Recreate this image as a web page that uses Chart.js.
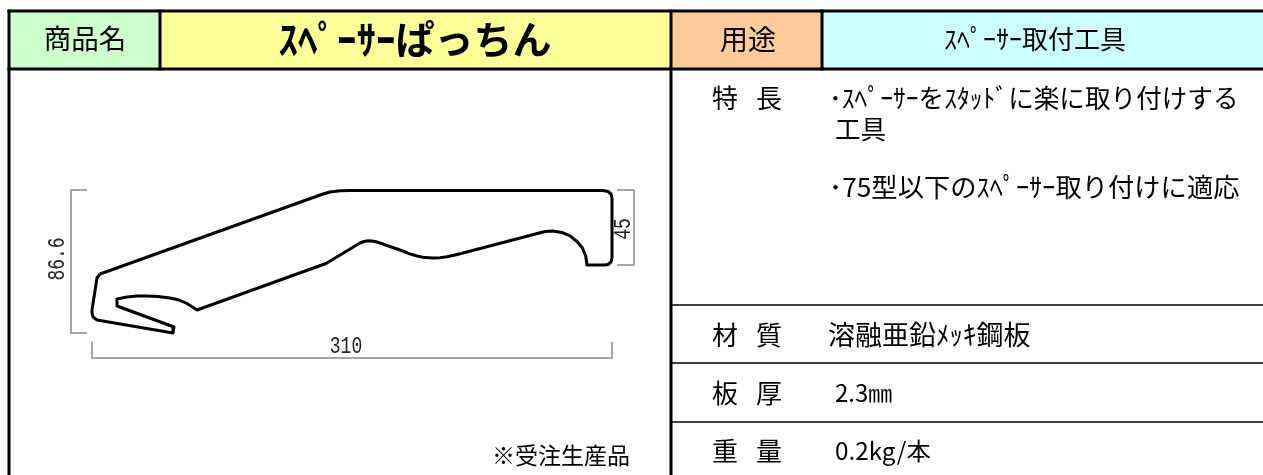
<!DOCTYPE html>
<html lang="ja"><head><meta charset="utf-8">
<style>html,body{margin:0;padding:0;background:#fff;overflow:hidden}canvas{display:block}</style>
<script src="https://cdn.jsdelivr.net/npm/chart.js@4/dist/chart.umd.min.js"></script>
</head><body><canvas id="c" width="1263" height="475"></canvas>
<script>
// profile outline: [x, y] in drawing units
const profileOutline = [[100,274],[323,194],[330,192],[340,190.7],[350,190.5],[603,190.5],[608,191.5],[611,194],[612,198],[612,258],[611,262],[608,264.5],[604,265],[587,265],[585.8,256.2],[582.4,248],[577,241.5],[570,235.8],[561.8,232.4],[553,231],[548,231.2],[543,232],[463,253],[455,255],[447,256.8],[440,257.7],[433,258],[425,257.6],[417,256],[408,253.2],[400,250],[377,242],[372,241],[368,240.8],[364,241.5],[360,243],[326,263.5],[197,310],[187,303.5],[179,300],[170,298],[158,296.4],[147,296],[137,296],[127,297],[117,299],[117,306],[174,327],[173,333],[97,320],[93,317],[92,313],[92,310],[97,278],[100,274]];
const bracketHeight = [[87,190],[71,190],[71,333],[87,333]];
const bracketWidth = [[92,342],[92,358],[612,358],[612,342]];
const bracketDepth = [[617,190],[634,190],[634,265],[617,265]];
// table rules
const thickRules = [[[9,11],[1263,11]],[[9,69],[1263,69]],[[9,11],[9,475]],[[160,11],[160,69]],[[671,11],[671,475]],[[822,11],[822,69]]];
const thinRules = [[[671,305],[1263,305]],[[671,363],[1263,363]],[[671,422],[1263,422]]];
// header cell fills
const cellNameLabel = [[9,11],[160,11],[160,69],[9,69]];
const cellNameValue = [[160,11],[671,11],[671,69],[160,69]];
const cellUseLabel = [[671,11],[822,11],[822,69],[671,69]];
const cellUseValue = [[822,11],[1263,11],[1263,69],[822,69]];
// texts
const tableTexts = ['商品名','ｽﾍﾟｰｻｰぱっちん','用途','ｽﾍﾟｰｻｰ取付工具','特','長','･ｽﾍﾟｰｻｰをｽﾀｯﾄﾞに楽に取り付けする','工具','･75型以下のｽﾍﾟｰｻｰ取り付けに適応','材','質','溶融亜鉛ﾒｯｷ鋼板','板','厚','2.3㎜','重','量','0.2kg/本','※受注生産品'];
const dimensionTexts = ['86.6','45','310'];

const pts = a => a.map(p => ({x:p[0], y:p[1]}));
const line = (a, color, w, extra) => Object.assign({data:pts(a), borderColor:color, borderWidth:w, pointRadius:0, showLine:true, tension:0, borderJoinStyle:'round', borderCapStyle:'butt', fill:false}, extra||{});
const cell = (a, color) => line(a.concat([a[0]]), 'rgba(0,0,0,0)', 0, {backgroundColor:color, fill:'shape', order:10});

const JP = '"Noto Sans CJK JP"';
// layout: text index -> [x anchor, y centre, size, weight, align]
const textLayout = [
 [85,39,27.5,400,'center'],[415,39,39,700,'center'],[748,39,28,400,'center'],[1035,39,26,400,'center'],
 [725,98,26,400,'center'],[769,98,26,400,'center'],[829,98,25.6,400,'left'],[835,129,25.6,400,'left'],[829,187,26.3,400,'left'],
 [725,335,26,400,'center'],[769,335,26,400,'center'],[828,335,27,400,'left'],
 [725,393,26,400,'center'],[769,393,26,400,'center'],[835,393,24,400,'left'],
 [725,451,26,400,'center'],[769,451,26,400,'center'],[835,451,24.3,400,'left'],
 [561,455,23,400,'center']
];
// layout: [x centre, y centre, size, rotation]
const dimLayout = [[58,259,18,-90],[624,229,18,-90],[346,347,18,0]];

const textPlugin = {id:'texts', afterDatasetsDraw(ch){
  const {ctx, scales:{x,y}} = ch;
  ctx.save(); ctx.textBaseline='middle'; ctx.fillStyle='#000';
  tableTexts.forEach((t,i)=>{const l=textLayout[i];
    ctx.font=`${l[3]} ${l[2]}px ${JP}`; ctx.textAlign=l[4];
    ctx.fillText(t,x.getPixelForValue(l[0]),y.getPixelForValue(l[1]));});
  ctx.fillStyle='#222';
  dimensionTexts.forEach((t,i)=>{const l=dimLayout[i];
    ctx.save(); ctx.translate(x.getPixelForValue(l[0]),y.getPixelForValue(l[1])); ctx.rotate(l[3]*Math.PI/180); ctx.scale(1,1.35);
    ctx.font=`${l[2]}px "Liberation Mono"`; ctx.textAlign='center'; ctx.fillText(t,0,0); ctx.restore();});
  ctx.restore();
}};

new Chart(document.getElementById('c'),{
  type:'scatter',
  data:{datasets:[
    line(profileOutline,'#000',3),
    line(bracketHeight,'#888',1.5), line(bracketWidth,'#888',1.5), line(bracketDepth,'#888',1.5),
    ...thickRules.map(r=>line(r,'#000',3,{borderCapStyle:'square'})),
    ...thinRules.map(r=>line(r,'#000',1.5)),
    cell(cellNameLabel,'#CCFFCC'), cell(cellNameValue,'#FFFF99'), cell(cellUseLabel,'#FFCC99'), cell(cellUseValue,'#CCFFFF')
  ]},
  options:{responsive:false,animation:false,devicePixelRatio:1,
    layout:{padding:0},
    plugins:{legend:{display:false},tooltip:{enabled:false},title:{display:false}},
    scales:{x:{type:'linear',min:0,max:1263,display:false},y:{type:'linear',min:0,max:475,reverse:true,display:false}}},
  plugins:[textPlugin]
});
</script></body></html>
